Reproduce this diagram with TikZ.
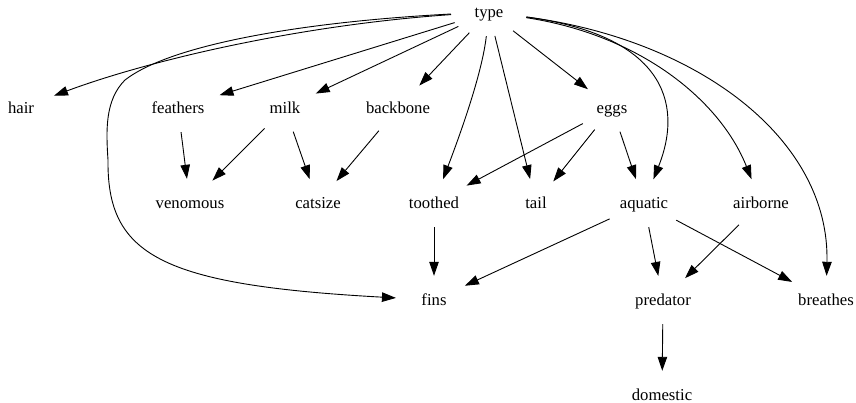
\documentclass[tikz,border=0pt]{standalone}
\usepackage{fontspec}
\setmainfont{Liberation Serif}
\usetikzlibrary{arrows.meta,shapes.geometric}
\begin{document}
\begin{tikzpicture}[x=1pt,y=-1pt,
  nd/.style={ellipse,inner xsep=8pt,inner ysep=3pt,minimum width=76pt,minimum height=48pt,
    text height=11pt,text depth=0pt,font=\fontsize{16.7}{20}\selectfont},
  ed/.style={line width=0.9pt,-{Triangle[length=14pt,width=9.5pt]}}]
\useasboundingbox (0,0) rectangle (856,403);
% nodes
\node[nd] (type) at (489,12) {type};
\node[nd] (hair) at (21,108) {hair};
\node[nd] (feathers) at (178,108) {feathers};
\node[nd] (milk) at (285,108) {milk};
\node[nd] (backbone) at (398,108) {backbone};
\node[nd] (eggs) at (612,108) {eggs};
\node[nd] (venomous) at (190,203) {venomous};
\node[nd] (catsize) at (318,203) {catsize};
\node[nd] (toothed) at (434,203) {toothed};
\node[nd] (tail) at (536,203) {tail};
\node[nd] (aquatic) at (644,203) {aquatic};
\node[nd] (airborne) at (761,203) {airborne};
\node[nd] (fins) at (434,300) {fins};
\node[nd] (predator) at (663,300) {predator};
\node[nd] (breathes) at (826,300) {breathes};
\node[nd] (domestic) at (662,395) {domestic};
% edges from type
\draw[ed] (type) .. controls (300,25) and (150,60) .. (hair);
\draw[ed] (type) .. controls (300,22) and (170,45) .. (125,80)
   .. controls (105,100) and (106,130) .. (108,160)
   .. controls (107,255) and (160,285) .. (fins);
\draw[ed] (type) -- (feathers);
\draw[ed] (type) -- (milk);
\draw[ed] (type) -- (backbone);
\draw[ed] (type) .. controls (482,75) and (458,140) .. (toothed);
\draw[ed] (type) -- (tail);
\draw[ed] (type) -- (eggs);
\draw[ed] (type) .. controls (660,35) and (685,100) .. (aquatic);
\draw[ed] (type) .. controls (640,35) and (720,100) .. (airborne);
\draw[ed] (type) .. controls (700,40) and (830,140) .. (breathes);
% other edges
\draw[ed] (feathers) -- (venomous);
\draw[ed] (milk) -- (venomous);
\draw[ed] (milk) -- (catsize);
\draw[ed] (backbone) -- (catsize);
\draw[ed] (eggs) -- (toothed);
\draw[ed] (eggs) -- (tail);
\draw[ed] (eggs) -- (aquatic);
\draw[ed] (toothed) -- (fins);
\draw[ed] (aquatic) -- (fins);
\draw[ed] (aquatic) -- (predator);
\draw[ed] (aquatic) -- (breathes);
\draw[ed] (airborne) -- (predator);
\draw[ed] (predator) -- (domestic);
\end{tikzpicture}
\end{document}
